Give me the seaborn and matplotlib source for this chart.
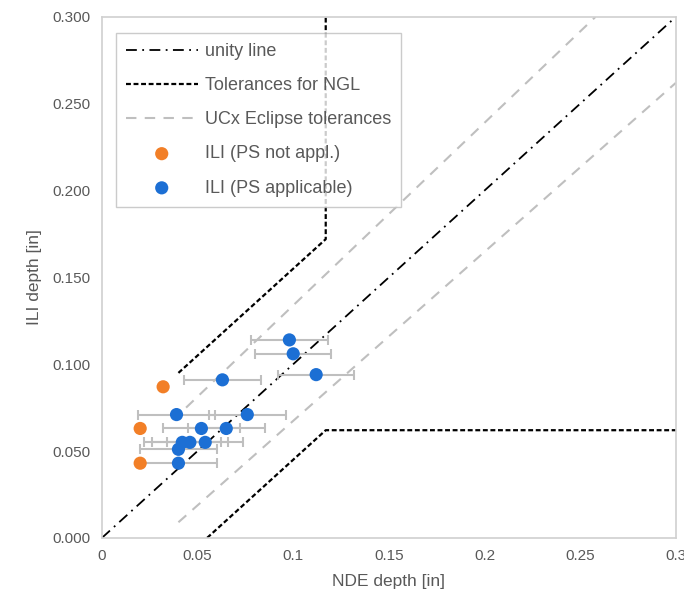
import pandas as pd
import numpy as np
import matplotlib
matplotlib.use("Agg")
import matplotlib.pyplot as plt
import seaborn as sns

# points
blue_nde = [0.098, 0.100, 0.112, 0.063, 0.039, 0.076, 0.052, 0.065, 0.042, 0.046, 0.054, 0.040, 0.040]
blue_ili = [0.114, 0.106, 0.094, 0.091, 0.071, 0.071, 0.063, 0.063, 0.055, 0.055, 0.055, 0.051, 0.043]
blue_err = 0.02
orange_nde = [0.032, 0.020, 0.020]
orange_ili = [0.087, 0.063, 0.043]

# reference lines
unity_x = [0.0, 0.3]
unity_y = [0.0, 0.3]
ngl_up_x = [0.040, 0.117, 0.117]
ngl_up_y = [0.095, 0.172, 0.300]
ngl_lo_x = [0.055, 0.117, 0.300]
ngl_lo_y = [0.000, 0.062, 0.062]
ucx_up_x = [0.044, 0.258]
ucx_up_y = [0.075, 0.300]
ucx_lo_x = [0.040, 0.300]
ucx_lo_y = [0.009, 0.262]

x_ticks = [0, 0.05, 0.1, 0.15, 0.2, 0.25, 0.3]
x_labels = ["0", "0.05", "0.1", "0.15", "0.2", "0.25", "0.3"]
y_ticks = [0, 0.05, 0.1, 0.15, 0.2, 0.25, 0.3]
y_labels = ["0.000", "0.050", "0.100", "0.150", "0.200", "0.250", "0.300"]

sns.set_style("white")
plt.rcParams['font.family'] = ['Liberation Sans', 'DejaVu Sans']

txt = '#595959'
blue = '#1C6FD4'
orange = '#F27F27'
light = '#BFBFBF'

fig = plt.figure(figsize=(6.84, 6.03), dpi=100)
ax = fig.add_axes([0.149, 0.108, 0.839, 0.864])

def draw(xs, ys, color, lw, dashes, label=None):
    sns.lineplot(x=xs, y=ys, ax=ax, color=color, lw=lw, sort=False,
                 estimator=None, errorbar=None, label=label)
    ax.lines[-1].set_dashes(dashes)

draw(unity_x, unity_y, 'black', 1.3, [6, 3, 1, 3], 'unity line')
draw(ngl_up_x, ngl_up_y, 'black', 1.6, [2.2, 1.2], 'Tolerances for NGL')
draw(ngl_lo_x, ngl_lo_y, 'black', 1.6, [2.2, 1.2])
draw(ucx_up_x, ucx_up_y, light, 1.5, [5, 4], 'UCx Eclipse tolerances')
draw(ucx_lo_x, ucx_lo_y, light, 1.5, [5, 4])

ax.errorbar(blue_nde, blue_ili, xerr=blue_err, fmt='none', ecolor=light,
            elinewidth=1.5, capsize=3.5, capthick=1.5, zorder=3)

sns.scatterplot(x=orange_nde, y=orange_ili, ax=ax, color=orange, s=90,
                edgecolor='none', label='ILI (PS not appl.)', zorder=4)
sns.scatterplot(x=blue_nde, y=blue_ili, ax=ax, color=blue, s=90,
                edgecolor='none', label='ILI (PS applicable)', zorder=4)

ax.set_xlim(0, 0.3)
ax.set_ylim(0, 0.3)
ax.set_xticks(x_ticks)
ax.set_xticklabels(x_labels)
ax.set_yticks(y_ticks)
ax.set_yticklabels(y_labels)
ax.tick_params(labelsize=11, colors=txt, length=0, pad=8)
ax.set_xlabel('NDE depth [in]', fontsize=12.5, color=txt, labelpad=8)
ax.set_ylabel('ILI depth [in]', fontsize=12.5, color=txt, labelpad=8)
for sp in ax.spines.values():
    sp.set_color('#D0D0D0')
    sp.set_linewidth(1.2)

leg = ax.legend(loc='upper left', bbox_to_anchor=(0.024, 0.969), fontsize=13,
                frameon=True, fancybox=False, edgecolor='#BFBFBF',
                handlelength=4.0, labelspacing=0.95, borderpad=0.55,
                handletextpad=0.4, borderaxespad=0)
leg.get_frame().set_linewidth(1.0)
for t in leg.get_texts():
    t.set_color(txt)

fig.savefig('out.png', dpi=100)
